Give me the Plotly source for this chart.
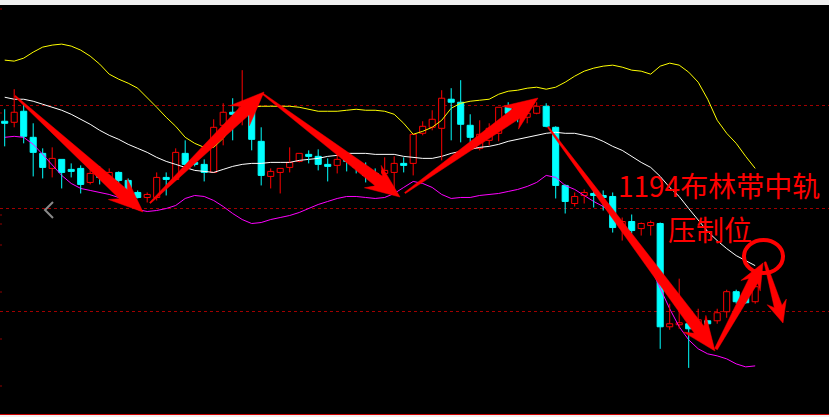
import math
import plotly.graph_objects as go

# ---------------- data (price units) ----------------
idx = list(range(80))
opens = [1336,1335,1346,1320,1304,1289,1298,1288,1289,1275,
         1285,1280,1285,1277,1265,1260,1260,1280,1278,1304,
         1295,1293,1285,1332,1345,1345,1349,1316,1281,1285,
         1290,1296,1303,1301,1293,1292,1298,1294,1290,1284,
         1284,1285,1294,1294,1324,1330,1329,1358,1355,1332,
         1309,1317,1324,1350,1345,1340,1344,1351,1330,1272,
         1254,1262,1264,1262,1261,1230,1236,1229,1232,1234,
         1131,1133,1134,1130,1137,1137,1146,1166,1161,1156]
highs = [1348,1368,1353,1334,1309,1310,1298,1294,1292,1291,
         1291,1289,1286,1279,1267,1265,1285,1285,1309,1317,
         1298,1298,1338,1354,1359,1387,1349,1330,1289,1289,
         1310,1304,1307,1308,1299,1304,1301,1297,1295,1289,
         1300,1301,1300,1323,1336,1347,1367,1369,1377,1343,
         1337,1334,1350,1355,1347,1347,1355,1354,1331,1273,
         1265,1268,1267,1267,1265,1240,1243,1235,1237,1235,
         1154,1179,1134,1149,1137,1149,1168,1168,1167,1175]
lows = [1311,1330,1314,1281,1279,1280,1269,1280,1264,1273,
        1273,1274,1273,1260,1259,1255,1257,1262,1277,1287,
        1291,1276,1285,1312,1317,1332,1307,1272,1269,1264,
        1285,1295,1294,1287,1276,1284,1286,1284,1275,1272,
        1272,1269,1285,1282,1322,1327,1297,1317,1315,1315,
        1307,1312,1316,1335,1335,1334,1343,1330,1259,1244,
        1251,1254,1250,1247,1225,1217,1224,1222,1222,1109,
        1128,1129,1090,1120,1125,1134,1140,1154,1154,1154]
closes = [1334,1345,1321,1305,1290,1299,1285,1286,1273,1284,
          1280,1285,1277,1265,1260,1263,1280,1278,1305,1293,
          1293,1285,1330,1345,1343,1354,1318,1282,1286,1289,
          1295,1304,1301,1293,1291,1298,1296,1290,1282,1279,
          1287,1294,1292,1323,1331,1338,1359,1355,1333,1320,
          1323,1329,1350,1344,1340,1344,1351,1331,1272,1256,
          1261,1265,1262,1260,1230,1236,1227,1234,1235,1131,
          1134,1135,1129,1138,1134,1145,1166,1156,1155,1171]

boll_upper = [1397,1396,1399,1405,1410,1412,1413,1411,1407,1401,
              1393,1383,1378,1374,1369,1360,1350,1340,1331,1320,
              1314,1310,1310,1319,1331,1343,1350,1351,1351,1351,
              1351,1350,1348,1346,1346,1346,1347,1348,1347,1347,
              1346,1343,1334,1323,1326,1330,1337,1349,1354,1356,
              1357,1358,1363,1366,1367,1369,1370,1368,1370,1375,
              1381,1386,1389,1391,1392,1390,1387,1386,1383,1391,
              1394,1392,1385,1375,1358,1337,1324,1314,1301,1289]
boll_mid = [1360,1358,1358,1356,1353,1350,1347,1343,1338,1333,
            1327,1322,1318,1313,1309,1305,1300,1296,1293,1290,
            1287,1286,1285,1288,1291,1293,1294,1294,1295,1295,
            1295,1297,1298,1299,1301,1302,1304,1304,1304,1303,
            1303,1303,1301,1300,1299,1299,1301,1304,1306,1308,
            1310,1311,1313,1316,1318,1320,1322,1324,1325,1324,
            1324,1322,1320,1316,1311,1307,1301,1295,1290,1281,
            1270,1261,1249,1238,1226,1217,1209,1202,1197,1192]
boll_lower = [1320,1321,1320,1313,1303,1292,1282,1274,1269,1267,
              1265,1263,1260,1254,1248,1246,1247,1249,1252,1259,
              1262,1261,1257,1251,1244,1238,1234,1235,1238,1240,
              1242,1245,1249,1253,1256,1259,1261,1261,1260,1259,
              1260,1264,1270,1276,1274,1270,1263,1259,1260,1260,
              1262,1263,1264,1266,1268,1271,1275,1282,1280,1272,
              1268,1262,1256,1251,1244,1233,1221,1208,1190,1170,
              1149,1131,1118,1109,1104,1102,1099,1094,1091,1092]

grid_levels = [1146, 1249, 1352]
label_line1 = "1194布林带中轨"
label_line2 = "压制位"

# ---------------- figure geometry ----------------
W, H = 829, 417
MT, MB = 5, 3
PLOT_TOP, PLOT_BOT = MT, H - MB
PH = PLOT_BOT - PLOT_TOP

def px(x):
    return x / W

def py(y):
    return (PLOT_BOT - y) / PH

RED = "#ff0000"
CYAN = "#00ffff"

fig = go.Figure()

# Bollinger lines
for vals, col in [(boll_upper, "#ffff00"), (boll_mid, "#ffffff"), (boll_lower, "#ff00ff")]:
    fig.add_trace(go.Scatter(x=idx, y=vals, mode="lines",
                             line=dict(color=col, width=1), hoverinfo="skip",
                             showlegend=False))

# candles
up = [i for i in idx if closes[i] >= opens[i]]
dn = [i for i in idx if closes[i] < opens[i]]

def wick_xy(ids):
    xs, ys = [], []
    for i in ids:
        top = max(opens[i], closes[i])
        bot = min(opens[i], closes[i])
        xs += [i, i, None, i, i, None]
        ys += [highs[i], top, None, bot, lows[i], None]
    return xs, ys

for ids, col, fill in [(up, RED, "#000000"), (dn, CYAN, CYAN)]:
    fig.add_trace(go.Bar(
        x=ids,
        base=[min(opens[i], closes[i]) for i in ids],
        y=[max(abs(closes[i] - opens[i]), 1) for i in ids],
        width=0.64,
        marker=dict(color=fill, line=dict(color=col, width=1)),
        hoverinfo="skip", showlegend=False))
    wx, wy = wick_xy(ids)
    fig.add_trace(go.Scatter(x=wx, y=wy, mode="lines",
                             line=dict(color=col, width=1),
                             hoverinfo="skip", showlegend=False))

# ---------------- annotation arrows (pixel layout) ----------------
def arrow_path(x0, y0, x1, y1, w0, w1, hw, hl):
    dx, dy = x1 - x0, y1 - y0
    L = math.hypot(dx, dy)
    ux, uy = dx / L, dy / L
    nx, ny = -uy, ux
    bx, by = x1 - ux * hl, y1 - uy * hl
    kx, ky = x1 - ux * hl * 0.78, y1 - uy * hl * 0.78
    pts = [
        (x0 + nx * w0, y0 + ny * w0),
        (kx + nx * w1, ky + ny * w1),
        (bx + nx * hw, by + ny * hw),
        (x1, y1),
        (bx - nx * hw, by - ny * hw),
        (kx - nx * w1, ky - ny * w1),
        (x0 - nx * w0, y0 - ny * w0),
    ]
    d = "M " + " L ".join(f"{px(a):.5f},{py(b):.5f}" for a, b in pts) + " Z"
    return d

arrows = [
    (15, 96, 143, 212, 0.7, 6.0, 14, 34),
    (150, 203, 264, 92, 0.7, 6.0, 14, 34),
    (263, 94, 400, 197, 0.7, 6.0, 14, 34),
    (405, 193, 538, 98, 0.7, 6.0, 14, 34),
    (548, 127, 715, 351, 0.7, 6.0, 14, 34),
    (716, 349, 763, 263, 1.5, 5.0, 11, 26),
    (765, 262, 783, 323, 1.0, 4.0, 10, 22),
]
shapes = []
for a in arrows:
    shapes.append(dict(type="path", xref="paper", yref="paper",
                       path=arrow_path(*a), fillcolor=RED,
                       line=dict(color=RED, width=0.5), layer="above"))

# circle
shapes.append(dict(type="circle", xref="paper", yref="paper",
                   x0=px(744), x1=px(783), y0=py(273), y1=py(240),
                   line=dict(color=RED, width=4), layer="above"))

# grey "<" nav mark
shapes.append(dict(type="path", xref="paper", yref="paper",
                   path=f"M {px(53)},{py(202)} L {px(45)},{py(210)} L {px(53)},{py(218)}",
                   line=dict(color="#8a8a8a", width=2), layer="above"))

# tiny left-edge ticks
for ty in [9, 113, 215, 224, 245, 292, 339, 386]:
    shapes.append(dict(type="line", xref="paper", yref="paper",
                       x0=0, x1=px(2), y0=py(ty), y1=py(ty),
                       line=dict(color="#900000", width=1), layer="above"))

annotations = [
    dict(xref="paper", yref="paper", x=px(616), y=py(185), xanchor="left",
         yanchor="middle", text=label_line1, showarrow=False,
         font=dict(family="Noto Sans CJK SC", size=28, color=RED)),
    dict(xref="paper", yref="paper", x=px(666), y=py(229), xanchor="left",
         yanchor="middle", text=label_line2, showarrow=False,
         font=dict(family="Noto Sans CJK SC", size=28, color=RED)),
]

fig.update_layout(
    width=W, height=H,
    margin=dict(l=0, r=0, t=MT, b=MB, pad=0),
    paper_bgcolor="#f0f0f0",
    plot_bgcolor="#000000",
    showlegend=False,
    barmode="overlay",
    shapes=shapes,
    annotations=annotations,
    xaxis=dict(range=[-0.495, 86.77], showgrid=False, zeroline=False,
               showticklabels=False, ticks="", showline=True,
               linecolor="#cc0000", linewidth=1, fixedrange=True),
    yaxis=dict(range=[1044, 1452], showgrid=True, gridcolor="#a00000",
               griddash="dot", gridwidth=1, tickvals=grid_levels,
               zeroline=False, showticklabels=False, ticks="",
               fixedrange=True),
)

fig.write_html("out.html",
               config={"displayModeBar": False, "staticPlot": True},
               post_script="document.body.style.margin='0';document.body.style.overflow='hidden';")
